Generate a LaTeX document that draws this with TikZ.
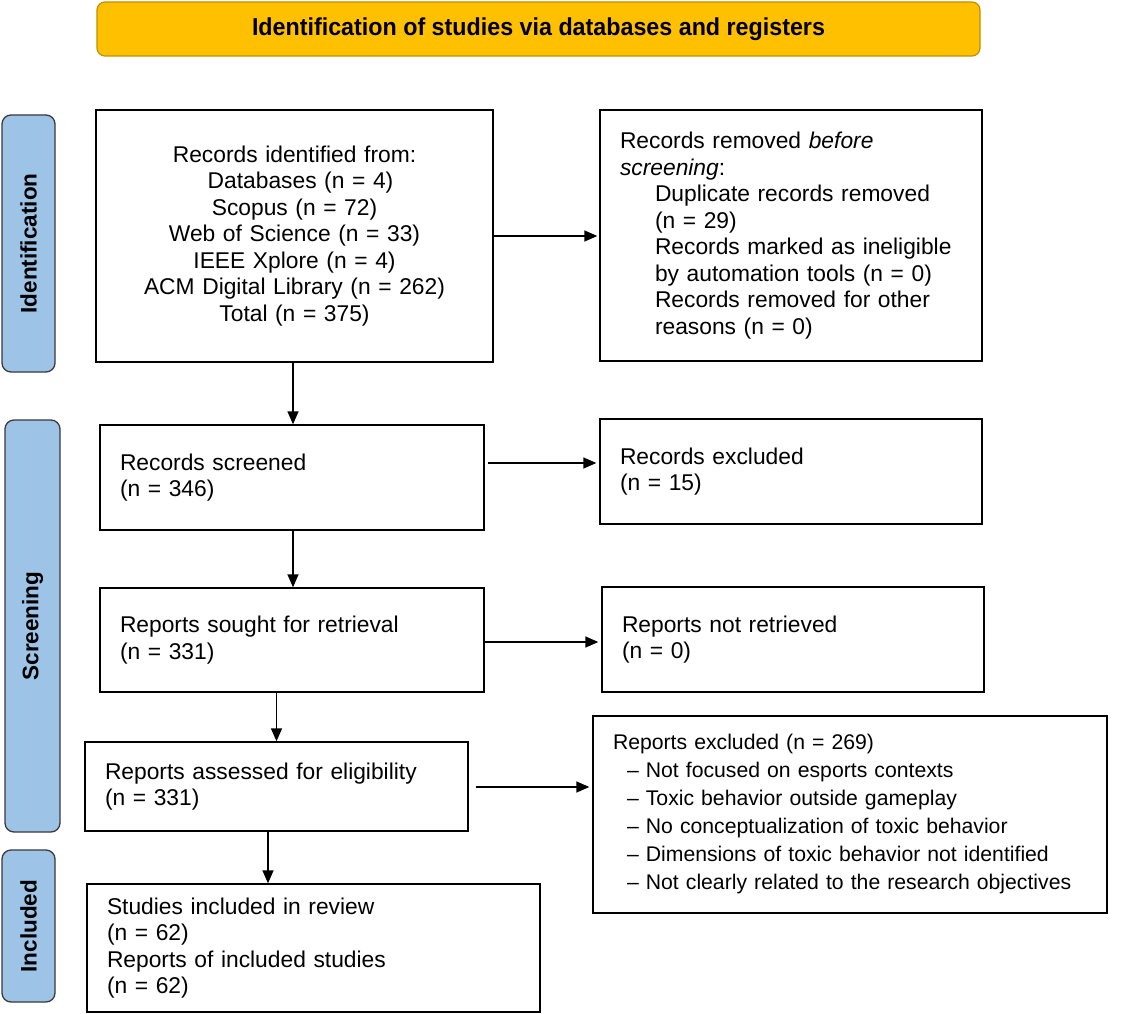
\documentclass[tikz,border=0pt]{standalone}
\usepackage{fontspec}
\setmainfont{Liberation Sans}
\newfontfamily\narrowfont{Liberation Sans}[FakeStretch=0.95]
\usetikzlibrary{arrows.meta}
\definecolor{hdrfill}{HTML}{FFC000}
\definecolor{hdrdraw}{HTML}{C09000}
\definecolor{sidefill}{HTML}{9DC3E6}
\definecolor{sidedraw}{HTML}{3A3A3A}
\tikzset{
  box/.style={draw=black, line width=1.4pt, inner xsep=20pt, inner ysep=0pt,
    font=\fontsize{22.8}{26.5}\selectfont, align=left},
  sidebox/.style={draw=sidedraw, fill=sidefill, line width=1.3pt, rounded corners=9pt,
    rotate=90, inner sep=0pt, font=\fontsize{22.5}{24}\selectfont\bfseries},
  arr/.style={line width=1.5pt, -{Triangle[length=13pt,width=11pt]}},
}
\begin{document}
\begin{tikzpicture}[x=1pt, y=-1pt]
\useasboundingbox (0,0) rectangle (1135,1014);
\fill[white] (0,0) rectangle (1135,1014);
% header
\node[draw=hdrdraw, fill=hdrfill, line width=1.2pt, rounded corners=8pt,
  minimum width=883pt, minimum height=54pt, inner sep=0pt,
  font=\narrowfont\fontsize{24.5}{26}\selectfont\bfseries] (hdr) at (538.5,29)
  {Identification of studies via databases and registers};
% side labels
\node[sidebox, minimum width=257pt, minimum height=53pt] (sid) at (28.5,243.5) {Identification};
\node[sidebox, minimum width=412pt, minimum height=55pt] (ssc) at (32.5,626) {Screening};
\node[sidebox, minimum width=152pt, minimum height=53pt] (sin) at (28.5,926) {Included};
% boxes
\node[box, align=center, text width=357pt, minimum height=252pt] (main) at (294.5,236)
  {Records identified from:\\
   \hspace*{12pt}Databases (n = 4)\\
   Scopus (n = 72)\\
   Web of Science (n = 33)\\
   IEEE Xplore (n = 4)\\
   ACM Digital Library (n = 262)\\
   Total (n = 375)};
\node[box, text width=342pt, minimum height=251pt] (removed) at (791,235.5)
  {Records removed \textit{before}\\
   \textit{screening}:\\
   \hspace*{35pt}Duplicate records removed\\
   \hspace*{35pt}(n = 29)\\
   \hspace*{35pt}Records marked as ineligible\\
   \hspace*{35pt}by automation tools (n = 0)\\
   \hspace*{35pt}Records removed for other\\
   \hspace*{35pt}reasons (n = 0)};
\node[box, text width=344pt, minimum height=105pt] (screened) at (292,477.5)
  {Records screened\\(n = 346)};
\node[box, text width=342pt, minimum height=105pt] (excluded) at (791,471.5)
  {Records excluded\\(n = 15)};
\node[box, text width=344pt, minimum height=104pt] (sought) at (292,640)
  {Reports sought for retrieval\\(n = 331)};
\node[box, text width=342pt, minimum height=105pt] (notret) at (793,639.5)
  {Reports not retrieved\\(n = 0)};
\node[box, text width=343pt, minimum height=89pt] (assessed) at (276.5,786.5)
  {Reports assessed for eligibility\\(n = 331)};
\node[box, font=\fontsize{21.2}{28}\selectfont, text width=474pt, minimum height=197pt] (repexcl) at (850,814.5)
  {Reports excluded (n = 269)\\
   \hspace*{14pt}\mbox{– Not focused on esports contexts}\\
   \hspace*{14pt}\mbox{– Toxic behavior outside gameplay}\\
   \hspace*{14pt}\mbox{– No conceptualization of toxic behavior}\\
   \hspace*{14pt}\mbox{– Dimensions of toxic behavior not identified}\\
   \hspace*{14pt}\mbox{– Not clearly related to the research objectives}};
\node[box, text width=413pt, minimum height=128pt] (incl) at (313.5,948)
  {Studies included in review\\(n = 62)\\Reports of included studies\\(n = 62)};
% connectors
\draw[arr] (main.east) -- ([xshift=-2pt]removed.west |- main.east);
\draw[arr] ([xshift=-1.5pt]main.south) -- ([xshift=-1.5pt]main.south |- screened.north);
\draw[arr] ([xshift=3pt,yshift=14.5pt]screened.east) -- ([xshift=-3pt,yshift=8.5pt]excluded.west);
\draw[arr] ([xshift=1pt]screened.south) -- ([xshift=1pt]screened.south |- sought.north);
\draw[arr] ([yshift=-2pt]sought.east) -- ([xshift=-3pt,yshift=-2.5pt]notret.west);
\draw[arr] (assessed.north |- sought.south) -- (assessed.north);
\draw[arr] ([xshift=7pt,yshift=-0.5pt]assessed.east) -- ([xshift=-3pt,yshift=-0.5pt]repexcl.west |- assessed.east);
\draw[arr] ([xshift=-8.5pt]assessed.south) -- ([xshift=-8.5pt]assessed.south |- incl.north);
\end{tikzpicture}
\end{document}
